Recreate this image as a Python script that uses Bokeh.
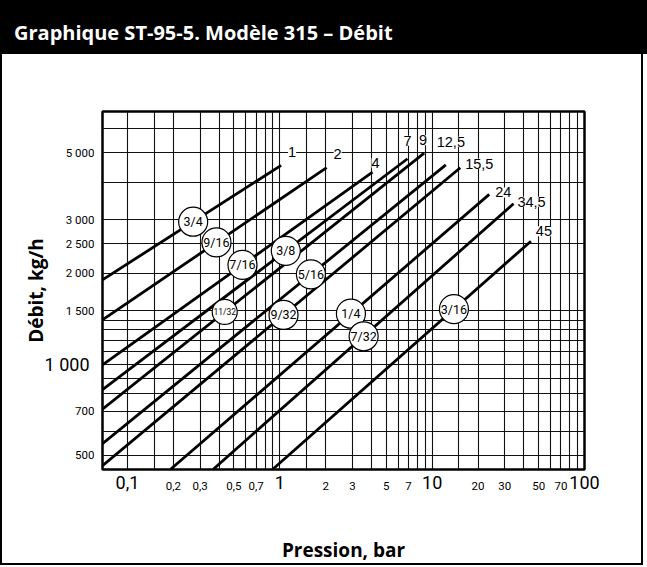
import math
from bokeh.plotting import figure
from bokeh.models import Range1d, FixedTicker, LabelSet, ColumnDataSource, LogAxis, Div
from bokeh.layouts import column
from bokeh.embed import file_html
from bokeh.resources import INLINE
from bokeh.core.properties import value

# ---------------- data ----------------
title_text = "Graphique ST-95-5. Modèle 315 – Débit"
x_title = "Pression, bar"
y_title = "Débit, kg/h"

orifices = ["3/4", "9/16", "7/16", "3/8", "11/32", "5/16", "9/32", "1/4", "7/32", "3/16"]
max_pressure = ["1", "2", "4", "7", "9", "12,5", "15,5", "24", "34,5", "45"]
pressure_start = [0.0686, 0.0686, 0.0686, 0.0686, 0.0686, 0.0686, 0.0686, 0.192, 0.366, 0.899]
flow_start = [1901, 1403, 996, 825, 710, 547, 462, 450, 450, 450]
pressure_end = [1.02, 2.03, 4.06, 6.89, 8.86, 12.3, 15.3, 23.7, 34.2, 44.5]
flow_end = [4540, 4460, 4310, 4775, 4980, 4560, 4460, 3640, 3390, 2550]
badge_pressure = [0.27, 0.384, 0.569, 1.095, 0.435, 1.6, 1.058, 2.93, 3.55, 13.9]

x_ticks_small = [0.2, 0.3, 0.5, 0.7, 2, 3, 5, 7, 20, 30, 50, 70]
x_ticks_small_text = ["0,2", "0,3", "0,5", "0,7", "2", "3", "5", "7", "20", "30", "50", "70"]
x_ticks_big = [0.1, 1, 10, 100]
x_ticks_big_text = ["0,1", "1", "10", "100"]
y_ticks_small = [500, 700, 1500, 2000, 2500, 3000, 5000]
y_ticks_small_text = ["500", "700", "1 500", "2 000", "2 500", "3 000", "5 000"]
y_ticks_big = [1000]
y_ticks_big_text = ["1 000"]
x_grid = [0.1, 0.15, 0.2, 0.3, 0.4, 0.5, 0.6, 0.7, 0.8, 0.9, 1, 1.5, 2, 3, 4, 5, 6, 7, 8, 9,
          10, 15, 20, 30, 40, 50, 60, 70, 80, 90, 100]
y_grid = [500, 600, 700, 800, 900, 1000, 1100, 1200, 1300, 1400, 1500, 2000, 2500, 3000,
          4000, 5000, 6000]
X_MIN, X_MAX = 0.0686, 100
Y_MIN, Y_MAX = 449, 6840

# ---------------- layout / style ----------------
PAGE_W = 647
BAND_H = 54
W = PAGE_W - 4
H = 511
BL, BR, BT = 100, 61, 57
BB = H - BT - 358

# end-label offsets (screen px: right, up)
end_dx = [11, 11, 3, 0, -1, 5, 19, 14, 18, 13]
end_dy = [13, 14, 9, 18, 13, 23, 4, 2, 2, 10]
badge_size = [29, 29, 29, 29, 25, 29, 29, 29, 29, 29]
badge_font = ["12.5px", "12.5px", "12.5px", "12.5px", "8.5px", "12.5px", "12.5px", "12.5px",
              "12.5px", "12.5px"]

TICK_FONT = "Roboto"

p = figure(width=W, height=H, x_axis_type="log", y_axis_type="log",
           x_range=Range1d(X_MIN, X_MAX), y_range=Range1d(Y_MIN, Y_MAX),
           output_backend="svg", toolbar_location=None,
           min_border_left=BL, min_border_right=BR, min_border_top=BT, min_border_bottom=BB,
           background_fill_color="white", border_fill_color="white", margin=0,
           styles={"border-left": "2px solid black", "border-right": "2px solid black",
                   "border-bottom": "2px solid black"})
p.outline_line_color = "black"
p.outline_line_width = 2.5

p.xgrid.ticker = FixedTicker(ticks=x_grid)
p.ygrid.ticker = FixedTicker(ticks=y_grid)
for g in (p.xgrid, p.ygrid):
    g.grid_line_color = "#111111"
    g.grid_line_width = 1.1
    g.minor_grid_line_color = None


def style_axis(ax, size):
    ax.axis_line_color = None
    ax.major_tick_line_color = None
    ax.minor_tick_line_color = None
    ax.major_tick_out = 0
    ax.major_tick_in = 0
    ax.minor_tick_out = 0
    ax.major_label_text_font = TICK_FONT
    ax.major_label_text_font_size = size
    ax.major_label_text_color = "black"
    ax.axis_label_text_font = "Open Sans"
    ax.axis_label_text_font_style = "bold"
    ax.axis_label_text_font_size = "19px"
    ax.axis_label_text_color = "black"


# inner axes: small tick labels
p.xaxis.ticker = FixedTicker(ticks=x_ticks_small)
p.xaxis.major_label_overrides = dict(zip(x_ticks_small, x_ticks_small_text))
p.yaxis.ticker = FixedTicker(ticks=y_ticks_small)
p.yaxis.major_label_overrides = dict(zip(y_ticks_small, y_ticks_small_text))
style_axis(p.xaxis[0], "11.5px")
style_axis(p.yaxis[0], "11.5px")
p.xaxis.major_label_standoff = 12
p.yaxis.major_label_standoff = 8

# outer axes: large tick labels + axis titles
xa2 = LogAxis(ticker=FixedTicker(ticks=x_ticks_big),
              major_label_overrides=dict(zip(x_ticks_big, x_ticks_big_text)))
style_axis(xa2, "18px")
xa2.major_label_standoff = -17
xa2.axis_label = x_title
xa2.axis_label_standoff = 45
p.add_layout(xa2, "below")

ya2 = LogAxis(ticker=FixedTicker(ticks=y_ticks_big),
              major_label_overrides=dict(zip(y_ticks_big, y_ticks_big_text)))
style_axis(ya2, "18px")
ya2.major_label_standoff = -27
ya2.axis_label = y_title
ya2.axis_label_standoff = -7
p.add_layout(ya2, "left")

# flow lines
src = ColumnDataSource(dict(ps=pressure_start, qs=flow_start, pe=pressure_end, qe=flow_end,
                            lab=max_pressure, dx=end_dx, dy=end_dy))
p.segment(x0="ps", y0="qs", x1="pe", y1="qe", source=src, line_color="black", line_width=2.8)

# badge positions along each line (log interpolation)
bq = []
for bp, ps, qs, pe, qe in zip(badge_pressure, pressure_start, flow_start, pressure_end, flow_end):
    t = (math.log10(bp) - math.log10(ps)) / (math.log10(pe) - math.log10(ps))
    bq.append(10 ** (math.log10(qs) + t * (math.log10(qe) - math.log10(qs))))
bsrc = ColumnDataSource(dict(x=badge_pressure, y=bq, t=orifices, s=badge_size, f=badge_font))
p.scatter(x="x", y="y", size="s", source=bsrc, marker="circle", fill_color="white",
          line_color="black", line_width=1.2)
p.text(x="x", y="y", text="t", source=bsrc, text_align="center", text_baseline="middle",
       text_font=value(TICK_FONT), text_font_size="f", text_color="black")

p.add_layout(LabelSet(x="pe", y="qe", text="lab", x_offset="dx", y_offset="dy", source=src,
                      text_align="center", text_baseline="middle",
                      text_font=value("Liberation Sans"), text_font_size="14.5px",
                      text_color="black", background_fill_color="white"))

# title band
band = Div(text=('<div style="padding-left:14px; line-height:%dpx; color:white; '
                 'font-family:\'Open Sans\'; font-weight:bold; font-size:20px; '
                 'white-space:nowrap;">%s</div>') % (BAND_H + 12, title_text),
           width=PAGE_W, height=BAND_H, margin=0,
           styles={"background-color": "black", "overflow": "hidden"})

layout = column(band, p, spacing=0, margin=0)
open("out.html", "w").write(file_html(layout, INLINE))
